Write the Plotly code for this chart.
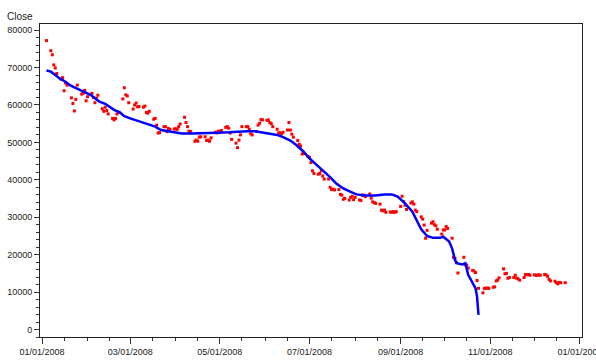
import plotly.graph_objects as go

# ---- daily closes (2008), day-of-month lists and values per month ----
jan_days = [4, 7, 8, 9, 10, 11, 14, 15, 16, 17, 18, 21, 22, 23, 24, 25, 28, 29, 30, 31]
jan_close = [77200, 74500, 73400, 70700, 69900, 68400, 66900, 67300, 63800, 65900, 65300,
             61900, 60400, 58400, 61500, 65300, 62900, 63100, 63900, 61100]
feb_days = [1, 4, 5, 6, 7, 8, 11, 12, 13, 14, 15, 18, 19, 20, 21, 22, 25, 26, 27, 28, 29]
feb_close = [62200, 63100, 62000, 60600, 61800, 62600, 59000, 58300, 59400, 58500, 57600,
             56400, 56000, 56400, 57600, 58000, 61600, 64600, 62700, 62400, 60600]
mar_days = [3, 4, 5, 6, 7, 10, 11, 12, 13, 14, 17, 18, 19, 20, 21, 24, 25, 26, 27, 28, 31]
mar_close = [58900, 60000, 60500, 59500, 59600, 59400, 59700, 58000, 57800, 58300, 56200,
             56400, 54600, 52500, 52600, 54200, 54200, 52900, 53700, 53500, 53600]
apr_days = [1, 2, 3, 4, 7, 8, 9, 10, 11, 14, 15, 16, 17, 18, 21, 22, 23, 24, 25, 28, 29, 30]
apr_close = [53600, 53500, 54200, 54900, 56700, 55300, 54200, 53000, 52900, 50300, 50600,
             50300, 51400, 51500, 51500, 50500, 50600, 50300, 51200, 52700, 52500, 53000]
may_days = [1, 2, 5, 6, 7, 8, 9, 12, 13, 14, 15, 16, 19, 20, 21, 22, 23, 26, 27, 28, 29, 30]
may_close = [52800, 53200, 54000, 54200, 53800, 52500, 50800, 49800, 48600, 50600, 52000,
             54200, 54200, 54200, 53500, 52300, 52000, 52900, 54600, 55100, 56100, 56000]
jun_days = [2, 3, 4, 5, 6, 9, 10, 11, 12, 13, 16, 17, 18, 19, 20, 23, 24, 25, 26, 27, 30]
jun_close = [55900, 56000, 55300, 55000, 54200, 53500, 52500, 52600, 52300, 52700, 53300,
             55300, 53300, 52200, 51400, 50500, 49500, 49000, 46900, 47000, 46200]
jul_days = [1, 2, 3, 4, 7, 8, 9, 10, 11, 14, 15, 16, 17, 18, 21, 22, 23, 24, 25, 28, 29, 30, 31]
jul_close = [46000, 44600, 42400, 41700, 41500, 41700, 42500, 41000, 40200, 40200, 38000,
             37400, 37500, 37300, 37400, 36100, 35900, 34800, 35000, 34600, 35300, 35600, 34700]
aug_days = [1, 4, 5, 6, 7, 8, 11, 12, 13, 14, 15, 18, 19, 20, 21, 22, 25, 26, 27, 28, 29]
aug_close = [35300, 34600, 34500, 35900, 35900, 35500, 36200, 35100, 34100, 33900, 33700,
             33500, 31900, 31700, 31900, 31300, 31400, 31300, 31500, 31300, 31500]
sep_days = [1, 2, 3, 4, 5, 8, 9, 10, 11, 12, 15, 16, 17, 18, 19, 22, 23, 24, 25, 26, 29, 30]
sep_close = [32900, 35600, 34200, 33200, 32100, 33800, 34100, 33500, 31900, 31500, 30100,
             29500, 27900, 24400, 26500, 28400, 28800, 28000, 27700, 26800, 25500, 26600]
oct_days = [1, 2, 3, 6, 7, 8, 9, 10, 14, 15, 16, 17, 20, 21, 22, 23, 24, 27, 28, 29, 30, 31]
oct_close = [26600, 27500, 27000, 24400, 19300, 19000, 17900, 15100, 19300, 17300, 17200,
             16400, 15800, 15600, 15200, 13100, 11000, 9800, 11000, 11000, 11100, 11000]
nov_days = [3, 4, 5, 6, 7, 10, 11, 12, 13, 14, 17, 18, 19, 20, 21, 24, 25, 26, 27, 28]
nov_close = [11300, 11400, 13000, 13200, 13800, 16200, 14900, 15000, 13700, 13900, 13900,
             14500, 13700, 13500, 13200, 13900, 14700, 14600, 14700, 14500]
dec_days = [1, 2, 3, 4, 5, 8, 9, 10, 11, 12, 15, 16, 17, 18, 19, 22]
dec_close = [14600, 14500, 14500, 14600, 14500, 14700, 14600, 14200, 13400, 13000,
             12900, 12500, 12200, 12600, 12500, 12500]

# ---- smoothed curve ----
smooth_dates = ["2008-01-04", "2008-01-07", "2008-01-10", "2008-01-13", "2008-01-17",
                "2008-01-20", "2008-01-23", "2008-01-27", "2008-01-30", "2008-02-03",
                "2008-02-06", "2008-02-09", "2008-02-13", "2008-02-16", "2008-02-19",
                "2008-02-23", "2008-02-26", "2008-03-01", "2008-03-04", "2008-03-07",
                "2008-03-11", "2008-03-14", "2008-03-18", "2008-03-22", "2008-03-29",
                "2008-04-05", "2008-04-12", "2008-04-21", "2008-04-29", "2008-05-07",
                "2008-05-14", "2008-05-20", "2008-05-25", "2008-05-28", "2008-06-04",
                "2008-06-09", "2008-06-13", "2008-06-18", "2008-06-22", "2008-06-27",
                "2008-07-01", "2008-07-06", "2008-07-10", "2008-07-15", "2008-07-19",
                "2008-07-24", "2008-07-29", "2008-08-02", "2008-08-08", "2008-08-15",
                "2008-08-21", "2008-08-26", "2008-08-30", "2008-09-04", "2008-09-09",
                "2008-09-12", "2008-09-15", "2008-09-19", "2008-09-23", "2008-09-28",
                "2008-09-30", "2008-10-04", "2008-10-06", "2008-10-08", "2008-10-09",
                "2008-10-13", "2008-10-15", "2008-10-17", "2008-10-19", "2008-10-22",
                "2008-10-23", "2008-10-24"]
smooth_close = [69200, 68900, 68000, 67100, 66200, 65300, 64700, 64000, 63400, 62700,
                61800, 60900, 60300, 59400, 58700, 58000, 57000, 56400, 56000, 55500,
                55100, 54600, 54200, 53300, 52900, 52400, 52400, 52400, 52600, 52700,
                52900, 53000, 53000, 52800, 52400, 52000, 51400, 50500, 49300, 47500,
                45700, 44000, 42400, 40700, 39100, 37700, 36800, 36100, 35800, 35800,
                36100, 36100, 35500, 33700, 31500, 29000, 26800, 25000, 24500, 24500,
                24800, 23500, 21700, 18600, 17700, 17400, 17700, 14600, 13200, 11000,
                8800, 3900]

# ---- axis ticks ----
x_tick_vals = ["2008-01-01", "2008-03-01", "2008-05-01", "2008-07-01",
               "2008-09-01", "2008-11-01", "2009-01-01"]
x_tick_text = ["01/01/2008", "03/01/2008", "05/01/2008", "07/01/2008",
               "09/01/2008", "11/01/2008", "01/01/2009"]
x_minor_vals = ["2008-01-16", "2008-02-01", "2008-02-16", "2008-03-16", "2008-04-01",
                "2008-04-16", "2008-05-16", "2008-06-01", "2008-06-16", "2008-07-16",
                "2008-08-01", "2008-08-16", "2008-09-16", "2008-10-01", "2008-10-16",
                "2008-11-16", "2008-12-01", "2008-12-16"]
y_tick_vals = [0, 10000, 20000, 30000, 40000, 50000, 60000, 70000, 80000]

months = [(1, jan_days, jan_close), (2, feb_days, feb_close), (3, mar_days, mar_close),
          (4, apr_days, apr_close), (5, may_days, may_close), (6, jun_days, jun_close),
          (7, jul_days, jul_close), (8, aug_days, aug_close), (9, sep_days, sep_close),
          (10, oct_days, oct_close), (11, nov_days, nov_close), (12, dec_days, dec_close)]
dates, closes = [], []
for m, days, vals in months:
    dates += [f"2008-{m:02d}-{d:02d}" for d in days]
    closes += vals

FONT = "Liberation Sans, Arial, sans-serif"
FS = 9

fig = go.Figure()
fig.add_trace(go.Scatter(x=dates, y=closes, mode="markers",
                         marker=dict(symbol="square", size=3, color="#FF0000", line=dict(width=0)),
                         showlegend=False, hoverinfo="x+y"))
fig.add_trace(go.Scatter(x=smooth_dates, y=smooth_close, mode="lines",
                         line=dict(color="#0000FF", width=2.5),
                         showlegend=False, hoverinfo="x+y"))

fig.update_layout(
    width=596, height=360,
    margin=dict(l=40, r=14, t=24, b=23, autoexpand=False),
    paper_bgcolor="white", plot_bgcolor="white",
    font=dict(family=FONT, size=FS, color="#222222"),
    xaxis=dict(type="date", range=["2007-12-30 15:00", "2009-01-02 10:00"],
               automargin=False, ticklabeloverflow="allow",
               tickmode="array", tickvals=x_tick_vals, ticktext=x_tick_text,
               ticks="outside", ticklen=6, tickwidth=1, tickcolor="#333333",
               showline=True, linecolor="#222222", linewidth=1, mirror=True,
               showgrid=False, zeroline=False,
               minor=dict(tickmode="array", tickvals=x_minor_vals, ticks="outside",
                          ticklen=3, tickwidth=1, tickcolor="#333333", showgrid=False),
               tickfont=dict(family=FONT, size=FS, color="#222222")),
    yaxis=dict(range=[-2000, 81630], tickmode="array", tickvals=y_tick_vals,
               automargin=False, tickformat="d", ticklabeloverflow="allow",
               ticks="outside", ticklen=5, tickwidth=1, tickcolor="#333333",
               showline=True, linecolor="#222222", linewidth=1, mirror=True,
               showgrid=False, zeroline=False,
               minor=dict(dtick=2000, tick0=0, ticks="outside", ticklen=3,
                          tickwidth=1, tickcolor="#333333", showgrid=False),
               tickfont=dict(family=FONT, size=FS, color="#222222")),
    annotations=[dict(text="Close", xref="paper", yref="paper", x=0, y=1,
                      xanchor="right", yanchor="bottom", xshift=-5, yshift=0,
                      showarrow=False, font=dict(family=FONT, size=10, color="#222222"))],
)

fig.write_html("out.html", config={"displayModeBar": False},
               post_script="document.body.style.margin='0';document.body.style.overflow='hidden';")
